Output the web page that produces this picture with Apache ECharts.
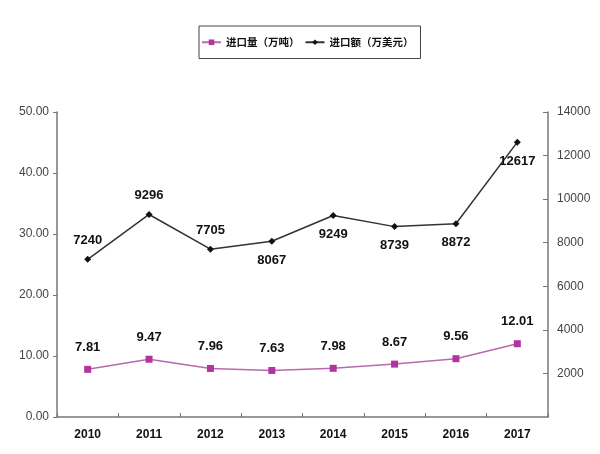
<!DOCTYPE html>
<html><head><meta charset="utf-8">
<script src="https://cdn.jsdelivr.net/npm/echarts@6/dist/echarts.min.js"></script>
<style>html,body{margin:0;padding:0;background:#fff}#c{width:600px;height:454px}</style>
</head><body><div id="c"></div>
<script>
const years = ['2010','2011','2012','2013','2014','2015','2016','2017'];
const volume = [7.81, 9.47, 7.96, 7.63, 7.98, 8.67, 9.56, 12.01];
const amount = [7240, 9296, 7705, 8067, 9249, 8739, 8872, 12617];
const amountLabelPos = ['top','top','top','bottom','bottom','bottom','bottom','bottom'];
const volName = '进口量（万吨）';
const amtName = '进口额（万美元）';

const chart = echarts.init(document.getElementById('c'));
const lbl = {show:true, color:'#111', fontWeight:'bold', fontSize:13, fontFamily:'Liberation Sans, Arial'};
chart.setOption({
  backgroundColor:'#fff',
  animation:false,
  legend:{
    top:26, left:199,
    borderColor:'#444', borderWidth:1, padding:[11,7,11,2],
    itemWidth:19, itemHeight:7, itemGap:5,
    textStyle:{color:'#111', fontSize:10.5, fontWeight:'bold', fontFamily:'Noto Sans CJK SC'},
    data:[volName, amtName]
  },
  grid:{left:57, right:52, top:112, bottom:37},
  xAxis:{
    type:'category', data:years, boundaryGap:true,
    axisLine:{lineStyle:{color:'#777', width:1.5}},
    axisTick:{show:true, inside:true, length:4, alignWithLabel:false, lineStyle:{color:'#777'}},
    axisLabel:{color:'#111', fontWeight:'bold', fontSize:12, margin:12, fontFamily:'Liberation Sans, Arial'}
  },
  yAxis:[
    {type:'value', min:0, max:50, interval:10, position:'left',
     axisLine:{show:true, lineStyle:{color:'#777', width:1.5}},
     axisTick:{show:true, length:4, lineStyle:{color:'#777'}},
     splitLine:{show:false},
     axisLabel:{color:'#444', fontSize:12, margin:8, fontFamily:'Liberation Sans, Arial', formatter:v=>v.toFixed(2)}},
    {type:'value', min:0, max:14000, interval:2000, position:'right',
     axisLine:{show:true, lineStyle:{color:'#777', width:1.5}},
     axisTick:{show:true, inside:true, length:5, lineStyle:{color:'#777'}},
     splitLine:{show:false},
     axisLabel:{color:'#444', fontSize:12, margin:9, showMinLabel:false, fontFamily:'Liberation Sans, Arial', formatter:v=>String(v)}}
  ],
  series:[
    {name:volName, type:'line', yAxisIndex:0, data:volume.map(v=>({value:v})),
     symbol:'rect', symbolSize:7,
     lineStyle:{color:'#b86aae', width:1.5},
     itemStyle:{color:'#b0359f'},
     label:Object.assign({position:'top', distance:12, formatter:p=>p.value.toFixed(2)}, lbl)},
    {name:amtName, type:'line', yAxisIndex:1,
     data:amount.map((v,i)=>({value:v, label:{position:amountLabelPos[i]}})),
     symbol:'diamond', symbolSize:7,
     lineStyle:{color:'#333', width:1.5},
     itemStyle:{color:'#111'},
     label:Object.assign({distance:9}, lbl)}
  ]
});
</script></body></html>
